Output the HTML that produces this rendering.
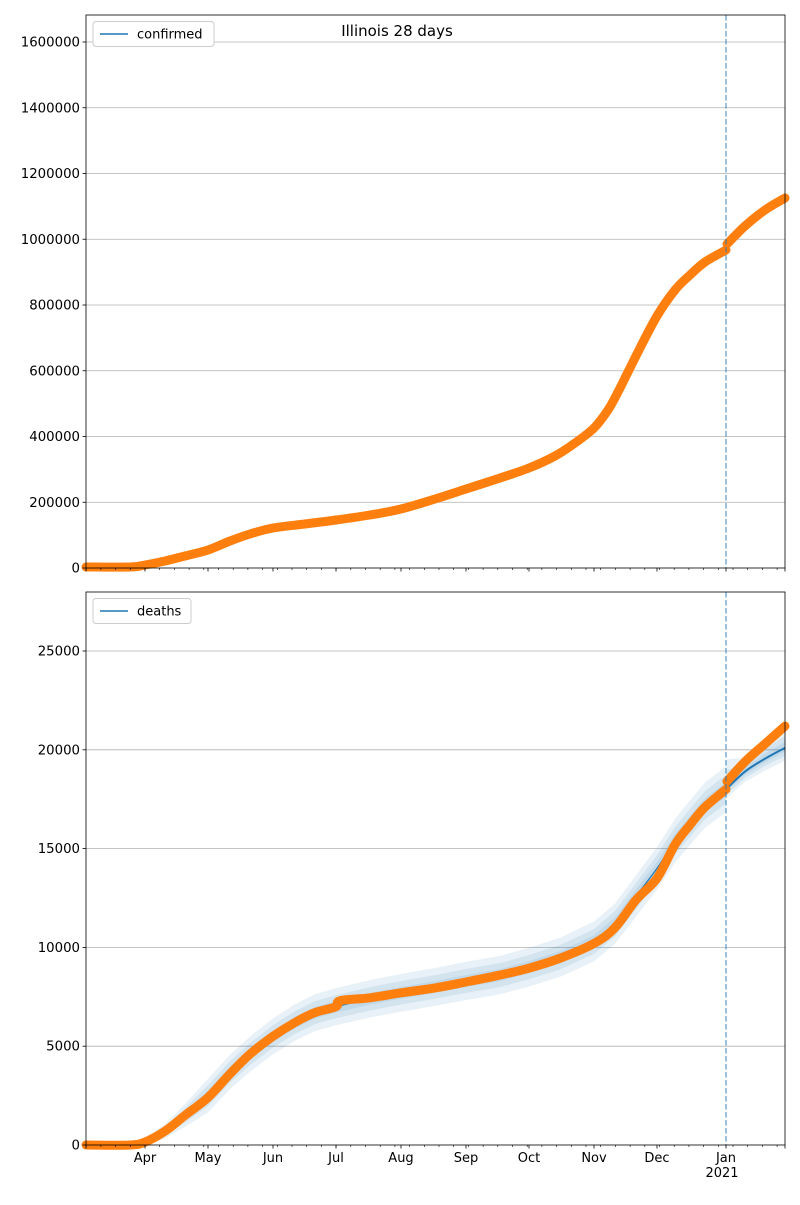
<!DOCTYPE html>
<html><head><meta charset="utf-8"><style>
body{margin:0;background:#fff}
svg{font-family:"DejaVu Sans","Liberation Sans",sans-serif}
</style></head><body>
<svg id="s" width="800" height="1200" xmlns="http://www.w3.org/2000/svg"></svg>
<script>
const s=document.getElementById('s');let h='';
const L=86,R=785;
function spline(pts){let d='M'+pts[0][0]+','+pts[0][1];for(let i=1;i<pts.length;i++){const p0=pts[Math.max(0,i-2)],p1=pts[i-1],p2=pts[i],p3=pts[Math.min(pts.length-1,i+1)];
const c1=[p1[0]+(p2[0]-p0[0])/6,p1[1]+(p2[1]-p0[1])/6],c2=[p2[0]-(p3[0]-p1[0])/6,p2[1]-(p3[1]-p1[1])/6];d+=` C${c1[0]},${c1[1]} ${c2[0]},${c2[1]} ${p2[0]},${p2[1]}`;}return d;}
function axes(T,B,ticks){
 ticks.forEach(t=>{h+=`<line x1="${L}" x2="${R}" y1="${t[0]}" y2="${t[0]}" stroke="#b0b0b0" stroke-width="0.8"/>`;});
}
function frame(T,B,ticks,showX){
 h+=`<rect x="${L}" y="${T}" width="${R-L}" height="${B-T}" fill="none" stroke="#000" stroke-width="0.8"/>`;
 ticks.forEach(t=>{h+=`<line x1="${L-3.5}" x2="${L}" y1="${t[0]}" y2="${t[0]}" stroke="#000" stroke-width="0.8"/><text x="${L-6}" y="${t[0]+4.5}" font-size="13.3" text-anchor="end">${t[1]}</text>`;});
 for(let x=145-14.7*4;x<=R+1;x+=14.7){h+=`<line x1="${x}" x2="${x}" y1="${B}" y2="${B+2}" stroke="#000" stroke-width="0.6"/>`;}
 const mon=[[145,'Apr'],[208,'May'],[273,'Jun'],[336,'Jul'],[401,'Aug'],[466,'Sep'],[529,'Oct'],[594,'Nov'],[657,'Dec'],[726,'Jan']];
 mon.forEach(m=>{h+=`<line x1="${m[0]}" x2="${m[0]}" y1="${B}" y2="${B+3.5}" stroke="#000" stroke-width="0.8"/>`;if(showX)h+=`<text x="${m[0]}" y="${B+17}" font-size="13" text-anchor="middle">${m[1]}</text>`;});
 h+=`<line x1="${L}" x2="${L}" y1="${B}" y2="${B+3.5}" stroke="#000" stroke-width="0.8"/><line x1="${R}" x2="${R}" y1="${B}" y2="${B+3.5}" stroke="#000" stroke-width="0.8"/>`;
 if(showX)h+=`<text x="722" y="${B+32}" font-size="13" text-anchor="middle">2021</text>`;
}
const t1=[];for(let i=0;i<=8;i++)t1.push([568-i*65.75,String(i*200000)]);
axes(15,568,t1.slice(1));
const c1a=[[86,567],[130,567],[145,565],[165,561],[185,556],[208,550],[230,541],[250,534],[273,528],[305,524],[336,520],[370,515],[401,509],[435,499],[466,489],[500,478],[529,468],[555,456],[575,443],[594,428],[608,410],[618,392],[628,372],[640,348],[657,316],[675,290],[690,275],[705,262],[726,250]];
const c1b=[[727,244],[745,226],[765,210],[785,198]];
h+=`<path d="${spline(c1a)}" fill="none" stroke="#ff7f0e" stroke-width="9" stroke-linecap="round" stroke-linejoin="round"/>`;
h+=`<path d="${spline(c1b)}" fill="none" stroke="#ff7f0e" stroke-width="9" stroke-linecap="round"/>`;
h+=`<line x1="726" x2="726" y1="15" y2="568" stroke="#1f77b4" stroke-opacity="0.6" stroke-width="1.5" stroke-dasharray="5.5,2.5"/>`;
frame(15,568,t1,false);
h+=`<rect x="93" y="21.5" width="121" height="25" rx="3" fill="#fff" stroke="#ccc"/><line x1="100" x2="128" y1="34" y2="34" stroke="#1f77b4" stroke-width="1.5"/><text x="137" y="38.5" font-size="13">confirmed</text>`;
h+=`<text x="397" y="36" font-size="15" text-anchor="middle">Illinois 28 days</text>`;
const B=1145,k=0.01976;const yv=v=>B-v*k;
const t2=[];for(let i=0;i<=5;i++)t2.push([yv(i*5000),String(i*5000)]);
axes(592,B,t2.slice(1));
const dpts=[[86,0],[130,0],[145,150],[165,700],[185,1500],[208,2500],[230,3700],[250,4600],[273,5500],[295,6200],[315,6700],[336,7000],[370,7400],[401,7700],[435,8000],[466,8300],[500,8600],[529,9000],[560,9500],[594,10300],[615,11200],[636,12600],[657,14000],[675,15400],[690,16300],[705,17200],[726,18000]];
const widths=[250,500,800];
widths.forEach((w0)=>{const up=[],dn=[];dpts.forEach(p=>{if(p[0]<140)return;const w=w0*Math.min(1,p[1]/3000+0.2)*(1+p[1]/40000);up.push([p[0],yv(p[1]+w)]);dn.push([p[0],yv(p[1]-w)]);});
 const fc=[[726,18000],[745,18900],[765,19550],[785,20100]];
 fc.forEach((p,i)=>{const w=w0*(1+p[1]/40000);up.push([p[0],yv(p[1]+w*(i==0?1.3:0.5+i*0.1))]);dn.push([p[0],yv(p[1]-w*(i==0?0.4:0.4+i*0.05))]);});
 let d='M'+up.map(p=>p.join(',')).join(' L')+' L'+dn.reverse().map(p=>p.join(',')).join(' L')+'Z';
 h+=`<path d="${d}" fill="#1f77b4" fill-opacity="0.1"/>`;
});
h+=`<path d="${spline(dpts.map(p=>[p[0],yv(p[1])]))}" fill="none" stroke="#1f77b4" stroke-width="1.2"/>`;
h+=`<path d="${spline([[726,yv(18000)],[745,yv(18900)],[765,yv(19550)],[785,yv(20100)]])}" fill="none" stroke="#1f77b4" stroke-width="2"/>`;
const o1=[[86,0],[130,0],[145,150],[165,700],[185,1500],[208,2400],[230,3600],[250,4600],[273,5500],[295,6200],[315,6700],[336,7000],[340,7300],[370,7450],[401,7700],[435,7950],[466,8250],[500,8600],[529,8950],[560,9450],[594,10200],[615,11000],[636,12400],[657,13500],[675,15200],[690,16200],[705,17100],[726,18000]];
h+=`<path d="${spline(o1.map(p=>[p[0],yv(p[1])]))}" fill="none" stroke="#ff7f0e" stroke-width="9" stroke-linecap="round" stroke-linejoin="round"/>`;
h+=`<path d="${spline([[727,yv(18400)],[745,yv(19400)],[765,yv(20300)],[785,yv(21200)]])}" fill="none" stroke="#ff7f0e" stroke-width="9" stroke-linecap="round"/>`;
h+=`<line x1="726" x2="726" y1="592" y2="${B}" stroke="#1f77b4" stroke-opacity="0.6" stroke-width="1.5" stroke-dasharray="5.5,2.5"/>`;
frame(592,B,t2,true);
h+=`<rect x="93" y="598.5" width="98" height="25" rx="3" fill="#fff" stroke="#ccc"/><line x1="100" x2="128" y1="611" y2="611" stroke="#1f77b4" stroke-width="1.5"/><text x="137" y="615.5" font-size="13">deaths</text>`;
s.innerHTML=h;
</script>
</body></html>
